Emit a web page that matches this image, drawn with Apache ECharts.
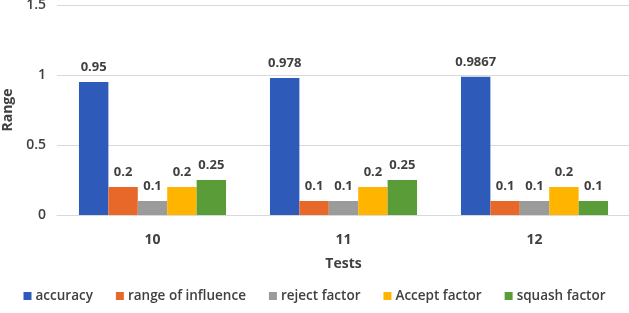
<!DOCTYPE html>
<html>
<head>
<meta charset="utf-8">
<script src="https://cdn.jsdelivr.net/npm/echarts@6/dist/echarts.min.js"></script>
<style>
  html, body { margin: 0; padding: 0; background: #fff; }
  #chart { width: 629px; height: 313px; }
</style>
</head>
<body>
<div id="chart"></div>
<script>
const categories = ['10', '11', '12'];
const seriesNames = ['accuracy', 'range of influence', 'reject factor', 'Accept factor', 'squash factor'];
const accuracy = [0.95, 0.978, 0.9867];
const rangeOfInfluence = [0.2, 0.1, 0.1];
const rejectFactor = [0.1, 0.1, 0.1];
const acceptFactor = [0.2, 0.2, 0.2];
const squashFactor = [0.25, 0.25, 0.1];
const yTicks = [0, 0.5, 1, 1.5];

const colors = ['#2E5BBA', '#E8682A', '#9B9B9B', '#FFB500', '#5A9C38'];
const values = [accuracy, rangeOfInfluence, rejectFactor, acceptFactor, squashFactor];
const font = '"Open Sans", "Noto Sans", sans-serif';

const chart = echarts.init(document.getElementById('chart'));
chart.setOption({
  animation: false,
  color: colors,
  grid: { left: 57, right: -1, top: 5, bottom: 98, containLabel: false, outerBoundsMode: 'none' },
  legend: {
    bottom: 5,
    left: 'center',
    itemWidth: 8,
    itemHeight: 8,
    itemGap: 23,
    icon: 'rect',
    textStyle: { fontFamily: font, fontSize: 13.5, fontWeight: 600, color: '#404040', padding: [0, 0, 0, -1] },
    data: seriesNames
  },
  xAxis: {
    type: 'category',
    data: categories,
    name: 'Tests',
    nameLocation: 'middle',
    nameGap: 42,
    nameTextStyle: { fontFamily: font, fontSize: 14, fontWeight: 'bold', color: '#404040' },
    axisTick: { show: false },
    axisLine: { lineStyle: { color: '#d9d9d9' } },
    axisLabel: { fontFamily: font, fontSize: 14, fontWeight: 'bold', color: '#404040', margin: 18 }
  },
  yAxis: {
    type: 'value',
    min: yTicks[0],
    max: yTicks[yTicks.length - 1],
    interval: 0.5,
    name: 'Range',
    nameLocation: 'middle',
    nameGap: 42,
    nameTextStyle: { fontFamily: font, fontSize: 14, fontWeight: 'bold', color: '#404040' },
    axisLine: { show: false },
    axisTick: { show: false },
    splitLine: { lineStyle: { color: '#d9d9d9' } },
    axisLabel: { fontFamily: font, fontSize: 14, fontWeight: 600, color: '#404040', margin: 11 }
  },
  series: seriesNames.map((name, i) => ({
    name: name,
    type: 'bar',
    data: values[i],
    barGap: '0%',
    barCategoryGap: '23%',
    label: {
      show: true,
      position: 'top',
      distance: 8,
      fontFamily: font,
      fontSize: 13,
      fontWeight: 'bold',
      color: '#404040'
    }
  }))
});
</script>
</body>
</html>
